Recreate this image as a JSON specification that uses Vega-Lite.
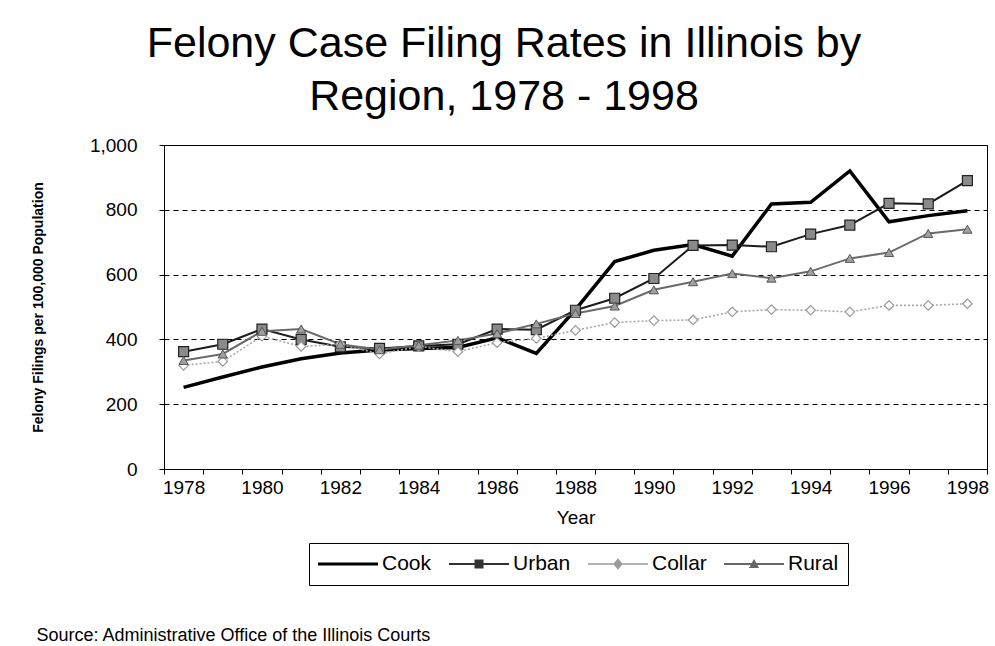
{
  "$schema": "https://vega.github.io/schema/vega-lite/v6.json",
  "background": "white",
  "padding": {"left": 30, "top": 22, "right": 0, "bottom": 0},
  "title": {
    "text": ["Felony Case Filing Rates in Illinois by", "Region, 1978 - 1998"],
    "fontSize": 43, "font": "Liberation Sans", "fontWeight": "normal",
    "lineHeight": 53, "anchor": "middle", "frame": "bounds", "offset": 17, "dx": -6, "color": "black"
  },
  "vconcat": [
    {
      "width": 823,
      "height": 324,
      "title": {
        "text": "Source: Administrative Office of the Illinois Courts",
        "orient": "bottom", "anchor": "start", "frame": "bounds",
        "fontSize": 18, "fontWeight": "normal", "font": "Liberation Sans",
        "offset": 100, "dx": 5, "color": "black"
      },
      "data": {
        "values": [
          {"year": 1978, "region": "Cook", "value": 252}, {"year": 1978, "region": "Urban", "value": 362}, {"year": 1978, "region": "Collar", "value": 320}, {"year": 1978, "region": "Rural", "value": 335},
          {"year": 1979, "region": "Cook", "value": 284}, {"year": 1979, "region": "Urban", "value": 385}, {"year": 1979, "region": "Collar", "value": 332}, {"year": 1979, "region": "Rural", "value": 355},
          {"year": 1980, "region": "Cook", "value": 315}, {"year": 1980, "region": "Urban", "value": 432}, {"year": 1980, "region": "Collar", "value": 410}, {"year": 1980, "region": "Rural", "value": 425},
          {"year": 1981, "region": "Cook", "value": 340}, {"year": 1981, "region": "Urban", "value": 400}, {"year": 1981, "region": "Collar", "value": 378}, {"year": 1981, "region": "Rural", "value": 432},
          {"year": 1982, "region": "Cook", "value": 358}, {"year": 1982, "region": "Urban", "value": 377}, {"year": 1982, "region": "Collar", "value": 385}, {"year": 1982, "region": "Rural", "value": 385},
          {"year": 1983, "region": "Cook", "value": 367}, {"year": 1983, "region": "Urban", "value": 372}, {"year": 1983, "region": "Collar", "value": 355}, {"year": 1983, "region": "Rural", "value": 368},
          {"year": 1984, "region": "Cook", "value": 372}, {"year": 1984, "region": "Urban", "value": 380}, {"year": 1984, "region": "Collar", "value": 378}, {"year": 1984, "region": "Rural", "value": 382},
          {"year": 1985, "region": "Cook", "value": 375}, {"year": 1985, "region": "Urban", "value": 385}, {"year": 1985, "region": "Collar", "value": 362}, {"year": 1985, "region": "Rural", "value": 397},
          {"year": 1986, "region": "Cook", "value": 405}, {"year": 1986, "region": "Urban", "value": 432}, {"year": 1986, "region": "Collar", "value": 390}, {"year": 1986, "region": "Rural", "value": 418},
          {"year": 1987, "region": "Cook", "value": 357}, {"year": 1987, "region": "Urban", "value": 430}, {"year": 1987, "region": "Collar", "value": 403}, {"year": 1987, "region": "Rural", "value": 448},
          {"year": 1988, "region": "Cook", "value": 492}, {"year": 1988, "region": "Urban", "value": 490}, {"year": 1988, "region": "Collar", "value": 428}, {"year": 1988, "region": "Rural", "value": 480},
          {"year": 1989, "region": "Cook", "value": 640}, {"year": 1989, "region": "Urban", "value": 527}, {"year": 1989, "region": "Collar", "value": 452}, {"year": 1989, "region": "Rural", "value": 503},
          {"year": 1990, "region": "Cook", "value": 675}, {"year": 1990, "region": "Urban", "value": 588}, {"year": 1990, "region": "Collar", "value": 458}, {"year": 1990, "region": "Rural", "value": 553},
          {"year": 1991, "region": "Cook", "value": 693}, {"year": 1991, "region": "Urban", "value": 690}, {"year": 1991, "region": "Collar", "value": 460}, {"year": 1991, "region": "Rural", "value": 578},
          {"year": 1992, "region": "Cook", "value": 657}, {"year": 1992, "region": "Urban", "value": 691}, {"year": 1992, "region": "Collar", "value": 485}, {"year": 1992, "region": "Rural", "value": 603},
          {"year": 1993, "region": "Cook", "value": 818}, {"year": 1993, "region": "Urban", "value": 686}, {"year": 1993, "region": "Collar", "value": 492}, {"year": 1993, "region": "Rural", "value": 589},
          {"year": 1994, "region": "Cook", "value": 823}, {"year": 1994, "region": "Urban", "value": 725}, {"year": 1994, "region": "Collar", "value": 490}, {"year": 1994, "region": "Rural", "value": 610},
          {"year": 1995, "region": "Cook", "value": 920}, {"year": 1995, "region": "Urban", "value": 753}, {"year": 1995, "region": "Collar", "value": 485}, {"year": 1995, "region": "Rural", "value": 650},
          {"year": 1996, "region": "Cook", "value": 763}, {"year": 1996, "region": "Urban", "value": 820}, {"year": 1996, "region": "Collar", "value": 505}, {"year": 1996, "region": "Rural", "value": 668},
          {"year": 1997, "region": "Cook", "value": 782}, {"year": 1997, "region": "Urban", "value": 818}, {"year": 1997, "region": "Collar", "value": 505}, {"year": 1997, "region": "Rural", "value": 727},
          {"year": 1998, "region": "Cook", "value": 797}, {"year": 1998, "region": "Urban", "value": 890}, {"year": 1998, "region": "Collar", "value": 510}, {"year": 1998, "region": "Rural", "value": 740}
        ]
      },
      "encoding": {
        "x": {
          "field": "year", "type": "ordinal",
          "scale": {"type": "band", "paddingInner": 0, "paddingOuter": 0},
          "axis": {
            "title": "Year", "labelExpr": "datum.value % 2 == 0 ? datum.label : ''",
            "tickBand": "extent", "labelAngle": 0, "grid": false, "labelOverlap": false,
            "tickSize": 5, "labelFontSize": 19, "titleFontSize": 19, "titleFontWeight": "normal",
            "labelPadding": 4, "titlePadding": 11
          }
        },
        "y": {
          "field": "value", "type": "quantitative",
          "scale": {"domain": [0, 1000]},
          "axis": {
            "values": [0, 200, 400, 600, 800, 1000], "format": ",d",
            "grid": true, "gridDash": [5, 4], "gridColor": "black", "gridOpacity": 1,
            "title": "Felony Filings per 100,000 Population",
            "titleFontSize": 14, "titleFontWeight": "bold",
            "labelFontSize": 19, "tickSize": 5, "labelPadding": 22, "titlePadding": 44
          }
        }
      },
      "layer": [
        {
          "transform": [{"filter": "datum.region == 'Cook'"}],
          "mark": {"type": "line", "stroke": "#000000", "strokeWidth": 3.5}
        },
        {
          "transform": [{"filter": "datum.region == 'Urban'"}],
          "mark": {"type": "line", "stroke": "#1c1c1c", "strokeWidth": 2}
        },
        {
          "transform": [{"filter": "datum.region == 'Collar'"}],
          "mark": {"type": "line", "stroke": "#a8a8a8", "strokeWidth": 1.6, "strokeDash": [2, 2]}
        },
        {
          "transform": [{"filter": "datum.region == 'Rural'"}],
          "mark": {"type": "line", "stroke": "#6a6a6a", "strokeWidth": 2}
        },
        {
          "transform": [{"filter": "datum.region == 'Urban'"}],
          "mark": {"type": "point", "shape": "square", "filled": true, "fill": "#8a8a8a", "stroke": "#222222", "strokeWidth": 1.2, "size": 100, "opacity": 1}
        },
        {
          "transform": [{"filter": "datum.region == 'Collar'"}],
          "mark": {"type": "point", "shape": "diamond", "filled": true, "fill": "white", "stroke": "#9a9a9a", "strokeWidth": 1.2, "size": 90, "opacity": 1}
        },
        {
          "transform": [{"filter": "datum.region == 'Rural'"}],
          "mark": {"type": "point", "shape": "triangle-up", "filled": true, "fill": "#a0a0a0", "stroke": "#555555", "strokeWidth": 1, "size": 85, "opacity": 1}
        },
        {
          "mark": {"type": "point", "filled": true, "opacity": 0},
          "encoding": {
            "color": {"field": "region", "type": "nominal",
              "scale": {"domain": ["Cook", "Urban", "Collar", "Rural"], "range": ["#000000", "#333333", "#9a9a9a", "#666666"]},
              "legend": {"title": null, "orient": "none", "legendX": 145, "legendY": 398, "direction": "horizontal",
                "symbolSize": 3600, "symbolOpacity": 1, "symbolStrokeWidth": 0, "labelFontSize": 21, "labelOffset": 4,
                "columnPadding": 17, "padding": 9, "strokeColor": "black", "clipHeight": 24, "labelColor": "black", "labelFont": "Liberation Sans"}},
            "shape": {"field": "region", "type": "nominal",
              "scale": {"domain": ["Cook", "Urban", "Collar", "Rural"], "range": [
                "M-1,-0.05H1V0.05H-1Z",
                "M-1,-0.03H1V0.03H-1Z M-0.15,-0.15H0.15V0.15H-0.15Z",
                "M-1,-0.024H1V0.024H-1Z M0,-0.19L0.16,0L0,0.19L-0.16,0Z",
                "M-1,-0.03H1V0.03H-1Z M0,-0.17L0.17,0.13H-0.17Z"]},
              "legend": {"title": null, "orient": "none", "legendX": 145, "legendY": 398, "direction": "horizontal",
                "symbolSize": 3600, "symbolOpacity": 1, "symbolStrokeWidth": 0, "labelFontSize": 21, "labelOffset": 4,
                "columnPadding": 17, "padding": 9, "strokeColor": "black", "clipHeight": 24, "labelColor": "black", "labelFont": "Liberation Sans"}}
          }
        }
      ]
    }
  ],
  "config": {
    "font": "Liberation Sans",
    "view": {"stroke": "black", "strokeWidth": 1},
    "axis": {"labelColor": "black", "titleColor": "black", "domainColor": "black", "tickColor": "black", "labelFont": "Liberation Sans", "titleFont": "Liberation Sans"}
  }
}
